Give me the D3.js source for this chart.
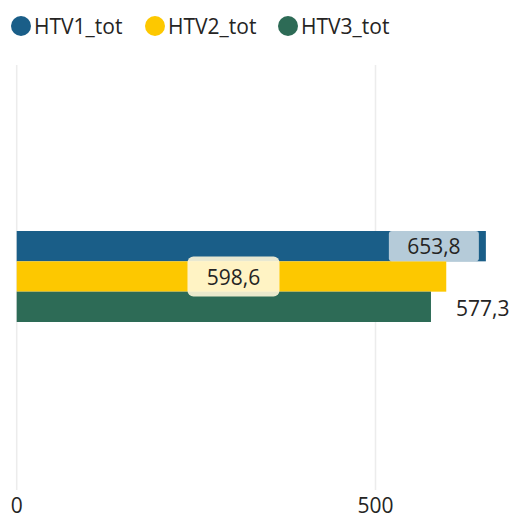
<!DOCTYPE html>
<html>
<head>
<meta charset="utf-8">
<script src="https://cdn.jsdelivr.net/npm/d3@7"></script>
<style>
  body { margin: 0; background: #fff; }
  text { font-family: "Open Sans", "Noto Sans", sans-serif; }
</style>
</head>
<body>
<div id="chart"></div>
<script>
// data
var series = ["HTV1_tot", "HTV2_tot", "HTV3_tot"];
var values = [653.8, 598.6, 577.3];
var colors = ["#1a5e88", "#fdc800", "#2d6b56"];
var labelMode = ["insideEnd", "center", "outside"];
var ticks = [0, 500];

var W = 517, H = 519;
var svg = d3.select("#chart").append("svg")
  .attr("width", W).attr("height", H);

var x = d3.scaleLinear().domain([0, 500]).range([16.7, 375.5]);
var y = d3.scaleBand().domain(series).range([231, 322]).padding(0);

var fmt = function(v) { return d3.format(".1f")(v).replace(".", ","); };

// legend
var legX = [21, 155, 288];
var leg = svg.append("g").selectAll("g").data(series).join("g")
  .attr("transform", function(d, i) { return "translate(" + legX[i] + ",26)"; });
leg.append("circle").attr("r", 10).attr("fill", function(d, i) { return colors[i]; });
leg.append("text").attr("x", 13).attr("y", 8)
  .attr("font-size", "21px").attr("fill", "#252423")
  .text(function(d) { return d; });

// gridlines
svg.append("g").selectAll("line").data(ticks).join("line")
  .attr("x1", function(d) { return x(d); }).attr("x2", function(d) { return x(d); })
  .attr("y1", 65).attr("y2", 490)
  .attr("stroke", "#ececec").attr("stroke-width", 1.5);

// axis labels
svg.append("g").selectAll("text").data(ticks).join("text")
  .attr("x", function(d) { return x(d); }).attr("y", 513)
  .attr("text-anchor", "middle").attr("font-size", "21px").attr("fill", "#252423")
  .text(function(d) { return d; });

// bars
svg.append("g").selectAll("rect").data(values).join("rect")
  .attr("x", x(0))
  .attr("y", function(d, i) { return y(series[i]); })
  .attr("width", function(d) { return x(d) - x(0); })
  .attr("height", y.bandwidth())
  .attr("fill", function(d, i) { return colors[i]; });

// data labels
var boxW = 90, bh = y.bandwidth();
values.forEach(function(v, i) {
  var yc = y(series[i]) + bh / 2;
  if (labelMode[i] == "insideEnd") {
    var x1 = x(v) - 7;
    svg.append("rect").attr("x", x1 - boxW).attr("y", y(series[i]))
      .attr("width", boxW).attr("height", bh).attr("rx", 3)
      .attr("fill", "#ffffff").attr("fill-opacity", 0.68);
    svg.append("text").attr("x", x1 - boxW / 2).attr("y", yc + 8)
      .attr("text-anchor", "middle").attr("font-size", "21px").attr("fill", "#252423")
      .text(fmt(v));
  } else if (labelMode[i] == "center") {
    var xc = (x(0) + x(v)) / 2 + 2;
    svg.append("rect").attr("x", xc - 46).attr("y", yc - 20)
      .attr("width", 92).attr("height", 40).attr("rx", 6)
      .attr("fill", "#fff7d9").attr("fill-opacity", 0.9);
    svg.append("text").attr("x", xc).attr("y", yc + 8)
      .attr("text-anchor", "middle").attr("font-size", "21px").attr("fill", "#252423")
      .text(fmt(v));
  } else {
    svg.append("text").attr("x", x(v) + 25).attr("y", yc + 9)
      .attr("font-size", "21px").attr("fill", "#252423")
      .text(fmt(v));
  }
});
</script>
</body>
</html>
